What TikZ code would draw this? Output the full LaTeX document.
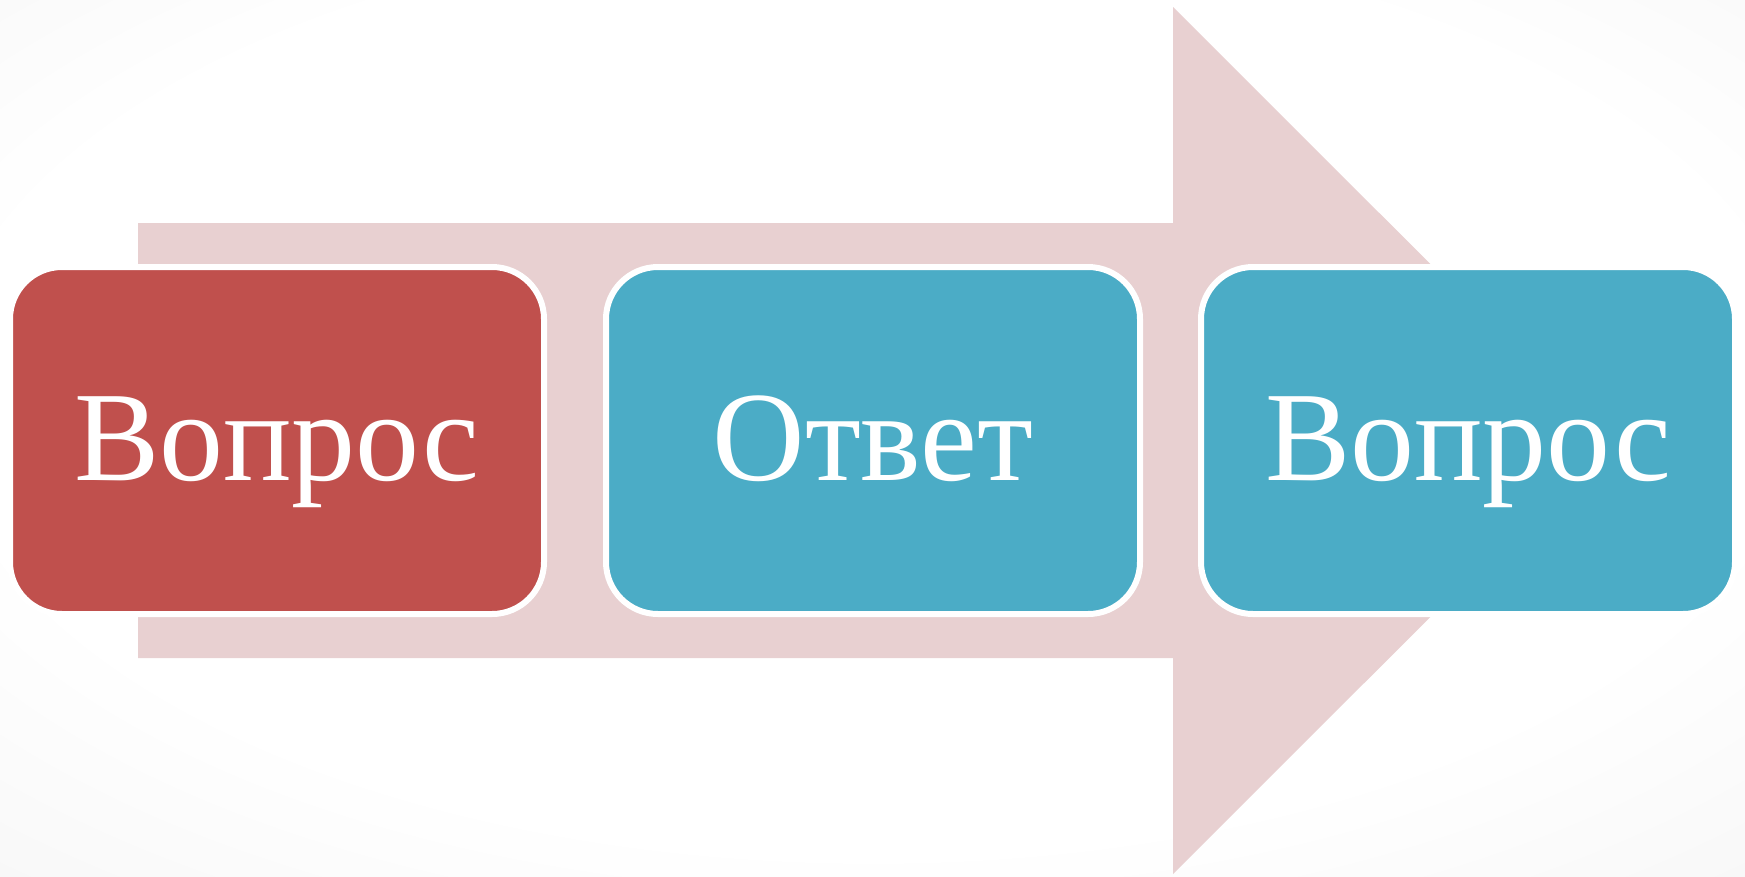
\documentclass[tikz,border=0pt]{standalone}
\usepackage{fontspec}
\setmainfont{Liberation Serif}
\definecolor{boxred}{HTML}{C0504D}
\definecolor{boxblue}{HTML}{4BACC6}
\definecolor{arrowpink}{HTML}{E8D0D1}
\pgfdeclareradialshading{bgshade}{\pgfpoint{0bp}{4bp}}{color(0bp)=(white); color(26bp)=(white); color(50bp)=(black!6); color(72bp)=(black!14)}
\tikzset{
  stagebox/.style={rectangle, rounded corners=52pt, draw=white, line width=6pt,
    minimum width=534pt, minimum height=347pt, inner sep=0pt},
  stagetext/.style={anchor=base, text=white, inner sep=0pt,
    font=\fontsize{128}{150}\selectfont}
}
\begin{document}
\begin{tikzpicture}[x=1pt,y=-1pt]
\useasboundingbox (0,0) rectangle (1745,876);
\shade[shading=bgshade] (0,0) rectangle (1745,876);
% big arrow
\fill[arrowpink] (138,223) -- (1173,223) -- (1173,7) -- (1607,440.5)
  -- (1173,874) -- (1173,658) -- (138,658) -- cycle;
% boxes
\node[stagebox, fill=boxred]  (box1) at (277,440.5) {};
\node[stagebox, fill=boxblue] (box2) at (873,440.5) {};
\node[stagebox, fill=boxblue] (box3) at (1468,440.5) {};
% texts
\node[stagetext] (t1) at (277,480) {Вопрос};
\node[stagetext] (t2) at (873,480) {Ответ};
\node[stagetext] (t3) at (1468,480) {Вопрос};
\end{tikzpicture}
\end{document}
